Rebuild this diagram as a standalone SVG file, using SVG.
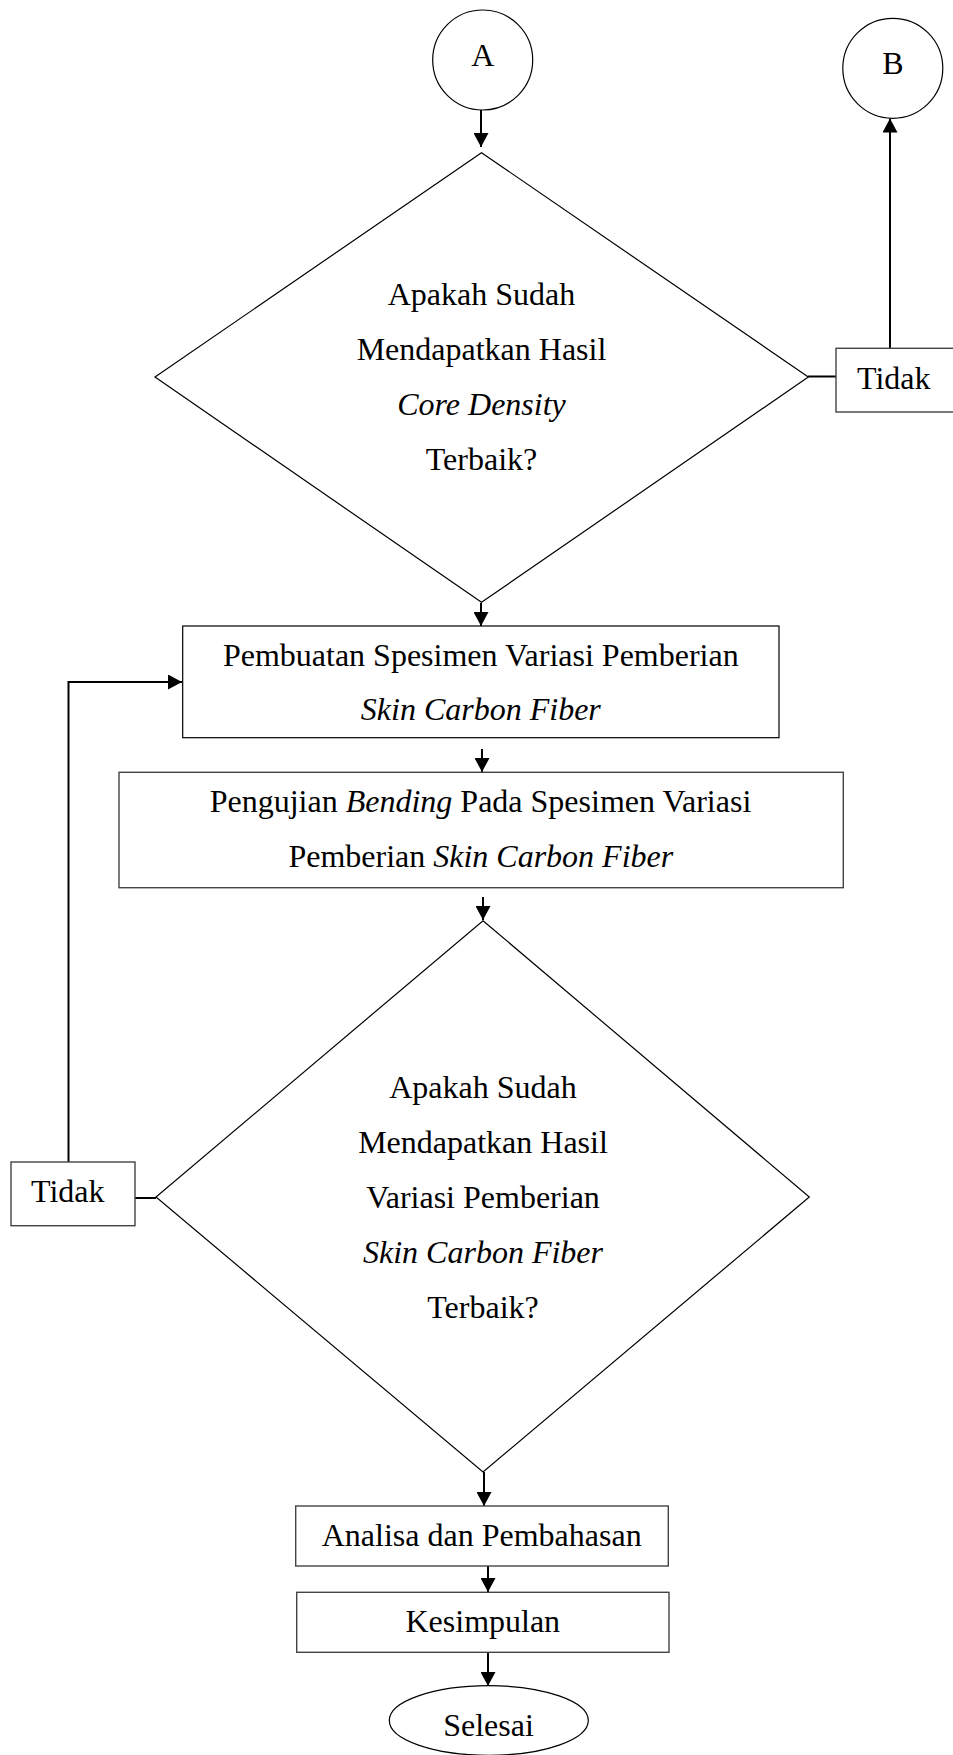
<svg xmlns="http://www.w3.org/2000/svg" width="953" height="1755" viewBox="0 0 953 1755">
<style>
text{font-family:"Liberation Serif","Times New Roman",serif;font-size:32px;fill:#000}
.c{text-anchor:middle}
.i{font-style:italic}
.shape{fill:#fff;stroke:#000;stroke-width:1.2}
.gbox{fill:#fff;stroke:#444;stroke-width:1.4}
.conn{fill:none;stroke:#000;stroke-width:2}
</style>
<defs>
<marker id="ah" viewBox="0 0 14 15" markerWidth="14" markerHeight="15" refX="14" refY="7.5" orient="auto" markerUnits="userSpaceOnUse">
<path d="M0,0 L14,7.5 L0,15 z" fill="#000"/>
</marker>
</defs>
<rect width="953" height="1755" fill="#fff"/>
<g id="connectors">
<line class="conn" x1="481" y1="110" x2="481" y2="147" marker-end="url(#ah)"/>
<line class="conn" x1="481" y1="603" x2="481" y2="626" marker-end="url(#ah)"/>
<line class="conn" x1="482" y1="749" x2="482" y2="772" marker-end="url(#ah)"/>
<line class="conn" x1="483" y1="897" x2="483" y2="920" marker-end="url(#ah)"/>
<line class="conn" x1="484" y1="1472" x2="484" y2="1506" marker-end="url(#ah)"/>
<line class="conn" x1="488" y1="1566" x2="488" y2="1592" marker-end="url(#ah)"/>
<line class="conn" x1="488" y1="1652" x2="488" y2="1686" marker-end="url(#ah)"/>
<line class="conn" x1="808" y1="376.5" x2="836" y2="376.5"/>
<polyline class="conn" points="890,348 890,118.5" marker-end="url(#ah)"/>
<line class="conn" x1="156" y1="1198" x2="135" y2="1198"/>
<polyline class="conn" points="68.5,1162 68.5,682 182,682" marker-end="url(#ah)"/>
</g>
<g id="nodeA">
<circle class="shape" cx="482.7" cy="60" r="50"/>
<text class="c" x="482.7" y="66">A</text>
</g>
<g id="nodeB">
<circle class="shape" cx="892.8" cy="68.3" r="50"/>
<text class="c" x="892.8" y="74">B</text>
</g>
<g id="decision1">
<polygon class="shape" points="481.5,152.7 808.3,377 481.5,602.3 155,377"/>
<text class="c" x="481.5" y="304.5">Apakah Sudah</text>
<text class="c" x="481.5" y="359.5">Mendapatkan Hasil</text>
<text class="c i" x="481.5" y="414.5">Core Density</text>
<text class="c" x="481.5" y="469.5">Terbaik?</text>
</g>
<g id="tidak1">
<rect class="gbox" x="836" y="348.3" width="125" height="63.7"/>
<text x="857" y="388.5">Tidak</text>
</g>
<g id="box1">
<rect class="shape" x="182.7" y="626" width="596.3" height="111.7"/>
<text class="c" x="480.8" y="665.7">Pembuatan Spesimen Variasi Pemberian</text>
<text class="c i" x="480.8" y="720">Skin Carbon Fiber</text>
</g>
<g id="box2">
<rect class="gbox" x="119" y="772.3" width="724.3" height="115.4"/>
<text class="c" x="480.5" y="811.7">Pengujian <tspan class="i">Bending</tspan> Pada Spesimen Variasi</text>
<text class="c" x="480.8" y="866.7">Pemberian <tspan class="i">Skin Carbon Fiber</tspan></text>
</g>
<g id="decision2">
<polygon class="shape" points="483,920.7 809.3,1197 483,1472 156,1197"/>
<text class="c" x="483" y="1098">Apakah Sudah</text>
<text class="c" x="483" y="1153">Mendapatkan Hasil</text>
<text class="c" x="483" y="1208">Variasi Pemberian</text>
<text class="c i" x="483" y="1263">Skin Carbon Fiber</text>
<text class="c" x="483" y="1318">Terbaik?</text>
</g>
<g id="tidak2">
<rect class="gbox" x="11" y="1162" width="124" height="63.7"/>
<text x="31" y="1202.3">Tidak</text>
</g>
<g id="analisa">
<rect class="gbox" x="295.7" y="1506" width="372.6" height="60"/>
<text class="c" x="481.7" y="1545.7">Analisa dan Pembahasan</text>
</g>
<g id="kesimpulan">
<rect class="gbox" x="296.7" y="1592.3" width="372.3" height="60"/>
<text class="c" x="482.8" y="1632.3">Kesimpulan</text>
</g>
<g id="selesai">
<ellipse class="shape" cx="488.8" cy="1720.5" rx="99.5" ry="34.8"/>
<text class="c" x="488.5" y="1736">Selesai</text>
</g>
</svg>
